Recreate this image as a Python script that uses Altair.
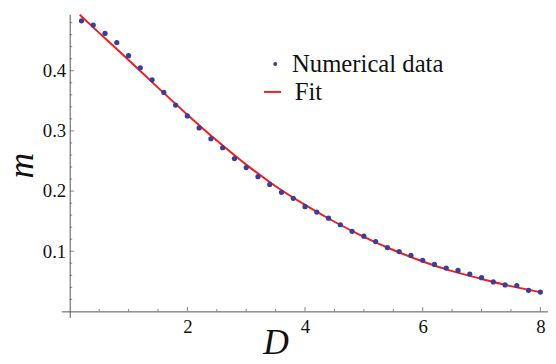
import altair as alt
import pandas as pd

# ---------------- data ----------------
D_data = [0.2, 0.4, 0.6, 0.8, 1.0, 1.2, 1.4, 1.6, 1.8, 2.0,
          2.2, 2.4, 2.6, 2.8, 3.0, 3.2, 3.4, 3.6, 3.8, 4.0,
          4.2, 4.4, 4.6, 4.8, 5.0, 5.2, 5.4, 5.6, 5.8, 6.0,
          6.2, 6.4, 6.6, 6.8, 7.0, 7.2, 7.4, 7.6, 7.8, 8.0]
m_data = [0.483, 0.476, 0.462, 0.447, 0.425, 0.405, 0.385, 0.364, 0.343, 0.325,
          0.305, 0.287, 0.272, 0.254, 0.239, 0.224, 0.211, 0.198, 0.188, 0.174,
          0.165, 0.155, 0.144, 0.133, 0.125, 0.116, 0.106, 0.0995, 0.093, 0.085,
          0.078, 0.072, 0.068, 0.062, 0.056, 0.049, 0.044, 0.043, 0.035, 0.032]

D_fit = [0.17, 0.5, 1.0, 1.5, 2.0, 2.5, 3.0, 3.5, 4.0, 4.5,
         5.0, 5.5, 6.0, 6.5, 7.0, 7.5, 8.0]
m_fit = [0.493, 0.463, 0.418, 0.372, 0.327, 0.284, 0.244, 0.208, 0.177, 0.149,
         0.124, 0.102, 0.083, 0.067, 0.054, 0.042, 0.032]

x_major_ticks = [2, 4, 6, 8]
x_minor_ticks = [0.5, 1, 1.5, 2.5, 3, 3.5, 4.5, 5, 5.5, 6.5, 7, 7.5]
y_major_ticks = [0.1, 0.2, 0.3, 0.4]
y_minor_ticks = [0.02, 0.04, 0.06, 0.08, 0.12, 0.14, 0.16, 0.18,
                 0.22, 0.24, 0.26, 0.28, 0.32, 0.34, 0.36, 0.38,
                 0.42, 0.44, 0.46, 0.48]

series_labels = ["Numerical data", "Fit"]

# ---------------- style ----------------
SERIF = "Liberation Serif"
BLUE = "#3d3d99"
RED = "#f21d1d"
AX = "#555555"
W, H = 493, 307

xs = alt.Scale(domain=[-0.143, 8.13], nice=False, zero=False)
ys = alt.Scale(domain=[-0.00985, 0.494], nice=False, zero=False)

df_pts = pd.DataFrame({"D": D_data, "m": m_data, "series": series_labels[0]})
df_fit = pd.DataFrame({"D": D_fit, "m": m_fit, "series": series_labels[1]})
df_xmaj = pd.DataFrame({"D": x_major_ticks, "m": [0.0] * len(x_major_ticks)})
df_xmin = pd.DataFrame({"D": x_minor_ticks, "m": [0.0] * len(x_minor_ticks)})
df_ymaj = pd.DataFrame({"D": [0.0] * len(y_major_ticks), "m": y_major_ticks})
df_ymin = pd.DataFrame({"D": [0.0] * len(y_minor_ticks), "m": y_minor_ticks})

x_axis = alt.Axis(
    values=x_major_ticks, format="d", ticks=False, tickSize=0, labelPadding=6,
    labelFont=SERIF, labelFontSize=19, labelColor="#111111", labelFlush=False,
    domainColor=AX, domainWidth=1, grid=False, offset=-6,
    title="D", titleFont=SERIF, titleFontStyle="italic", titleFontSize=36,
    titleFontWeight="normal", titleColor="#111111", titleX=217, titleY=43,
    titleBaseline="alphabetic", titleAlign="center",
)
y_axis = alt.Axis(
    values=y_major_ticks, format=".1f", ticks=False, tickSize=0, labelPadding=4,
    labelFont=SERIF, labelFontSize=19, labelColor="#111111", labelFlush=False,
    domainColor=AX, domainWidth=1, grid=False, offset=-8.5,
    title="m", titleFont=SERIF, titleFontStyle="italic", titleFontSize=36,
    titleFontWeight="normal", titleColor="#111111", titleAngle=270,
    titleX=-38, titleY=153, titleBaseline="alphabetic", titleAlign="center",
)

pts = alt.Chart(df_pts).mark_circle(size=28, opacity=1).encode(
    x=alt.X("D:Q", scale=xs, axis=x_axis),
    y=alt.Y("m:Q", scale=ys, axis=y_axis),
    color=alt.Color(
        "series:N",
        scale=alt.Scale(domain=[series_labels[0]], range=[BLUE]),
        legend=alt.Legend(
            title=None, orient="none", legendX=204.2, legendY=38.0, padding=0,
            symbolType="circle", symbolSize=16, symbolStrokeWidth=0,
            labelFont=SERIF, labelFontSize=25, labelColor="#111111",
            labelOffset=4.5, labelLimit=400,
        ),
    ),
)

fit = alt.Chart(df_fit).mark_line(strokeWidth=2, interpolate="monotone").encode(
    x=alt.X("D:Q", scale=xs),
    y=alt.Y("m:Q", scale=ys),
    color=alt.Color(
        "series:N",
        scale=alt.Scale(domain=[series_labels[1]], range=[RED]),
        legend=alt.Legend(
            title=None, orient="none", legendX=201.5, legendY=66.2, padding=0,
            symbolType="stroke", symbolSize=300, symbolStrokeWidth=2,
            labelFont=SERIF, labelFontSize=25, labelColor="#111111",
            labelOffset=10.0, labelLimit=400,
        ),
    ),
)

def ticks(df, orient, size):
    if orient == "vertical":
        mk = alt.Chart(df).mark_tick(orient="vertical", size=size, thickness=1,
                                     color=AX, yOffset=-size / 2)
    else:
        mk = alt.Chart(df).mark_tick(orient="horizontal", size=size, thickness=1,
                                     color=AX, xOffset=size / 2)
    return mk.encode(x=alt.X("D:Q", scale=xs), y=alt.Y("m:Q", scale=ys))

chart = alt.layer(
    ticks(df_xmin, "vertical", 2.5),
    ticks(df_xmaj, "vertical", 4.5),
    ticks(df_ymin, "horizontal", 2.5),
    ticks(df_ymaj, "horizontal", 4.5),
    fit,
    pts,
).resolve_scale(color="independent").properties(
    width=W, height=H,
    autosize=alt.AutoSizeParams(type="none"),
    padding={"left": 54, "top": 4, "right": 0, "bottom": 45},
).configure_view(stroke=None)

chart.save("out.html", embed_options={"renderer": "svg", "actions": False})
